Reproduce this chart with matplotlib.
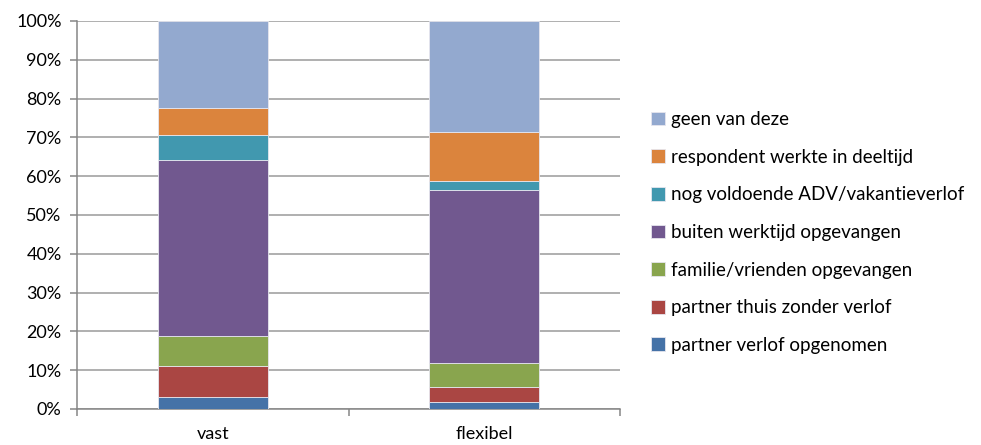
import numpy as np
import matplotlib.pyplot as plt
from matplotlib.ticker import PercentFormatter

categories = ['vast', 'flexibel']
series_names = [
    'partner verlof opgenomen',
    'partner thuis zonder verlof',
    'familie/vrienden opgevangen',
    'buiten werktijd opgevangen',
    'nog voldoende ADV/vakantieverlof',
    'respondent werkte in deeltijd',
    'geen van deze',
]
partner_verlof = [3.0, 1.7]
partner_thuis = [8.0, 4.0]
familie = [7.8, 6.1]
buiten_werktijd = [45.3, 44.6]
adv_verlof = [6.5, 2.4]
deeltijd = [6.9, 12.7]
geen = [22.5, 28.5]
series_values = [partner_verlof, partner_thuis, familie, buiten_werktijd,
                 adv_verlof, deeltijd, geen]
colors = ['#4572A7', '#AA4643', '#89A54E', '#71588F', '#4198AF', '#DB843D', '#93A9CF']

plt.rcParams['font.family'] = ['Lato', 'DejaVu Sans']

fig = plt.figure(figsize=(9.81, 4.45), dpi=100)
ax = fig.add_axes([0.0785, 0.081, 0.5535, 0.872])

x = np.arange(len(categories))
bottom = np.zeros(len(categories))
handles = []
for name, vals, col in zip(series_names, series_values, colors):
    b = ax.bar(x, vals, 0.405, bottom=bottom, color=col, label=name,
               edgecolor='#e6e6ee', linewidth=0.6, zorder=3)
    handles.append(b)
    bottom += np.array(vals)

ax.set_xlim(-0.5, 1.5)
ax.set_ylim(0, 100)
ax.set_yticks(np.arange(0, 101, 10))
ax.yaxis.set_major_formatter(PercentFormatter(decimals=0))
ax.grid(axis='y', color='#9a9a9a', linewidth=1.1, zorder=0)

ax.set_xticks(x)
ax.set_xticklabels(categories)
ax.set_xticks([-0.5, 0.5, 1.5], minor=True)
ax.tick_params(axis='x', which='major', length=0, pad=12, labelsize=13)
ax.tick_params(axis='x', which='minor', length=5, color='#868686', width=1.1)
ax.tick_params(axis='y', length=5, color='#868686', width=1.1, labelsize=13, pad=6)

for s in ['top', 'right']:
    ax.spines[s].set_visible(False)
for s in ['left', 'bottom']:
    ax.spines[s].set_color('#868686')
    ax.spines[s].set_linewidth(1.1)

fig.legend(handles[::-1], series_names[::-1], loc='center left',
           bbox_to_anchor=(0.664, 0.4775), frameon=False, fontsize=13.5,
           handlelength=0.75, handleheight=0.75, handletextpad=0.3,
           labelspacing=1.1, borderaxespad=0, borderpad=0)

fig.savefig('out.png', dpi=100)
